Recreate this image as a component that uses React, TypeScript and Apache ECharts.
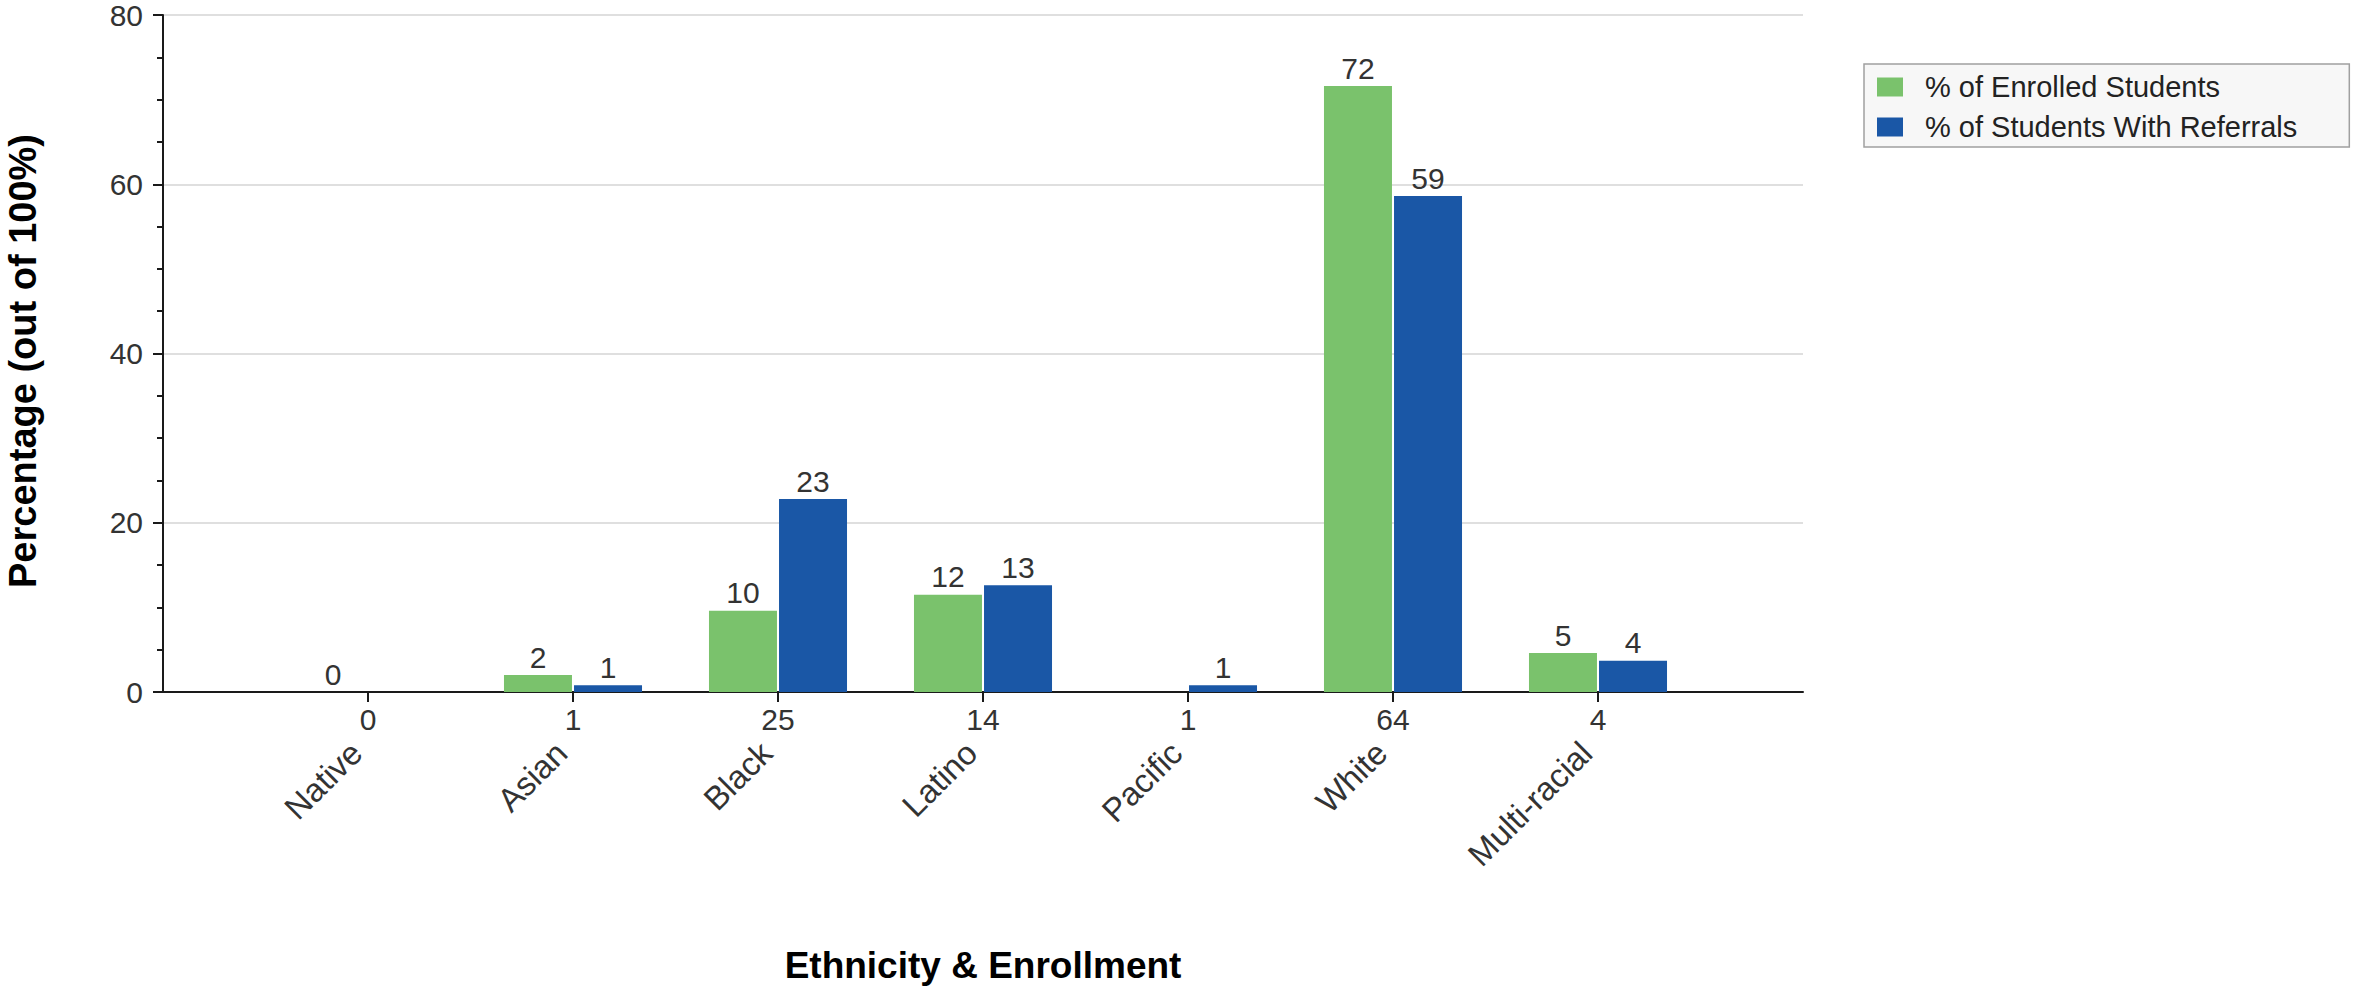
import React, { useEffect, useRef } from 'react';
import * as echarts from 'echarts';

const categories = ['Native', 'Asian', 'Black', 'Latino', 'Pacific', 'White', 'Multi-racial'];
const referralCounts = ['0', '1', '25', '14', '1', '64', '4'];
const enrolledPct: (number | null)[] = [0, 2.0, 9.6, 11.5, null, 71.6, 4.6];
const referralPct: (number | null)[] = [null, 0.8, 22.8, 12.6, 0.8, 58.6, 3.7];
const seriesNames = ['% of Enrolled Students', '% of Students With Referrals'];
const seriesColors = ['#7ac26c', '#1a57a6'];
const yMin = 0;
const yMax = 80;
const yInterval = 20;
const yTitle = 'Percentage (out of 100%)';
const xTitle = 'Ethnicity & Enrollment';

const FONT = '"Liberation Sans", Arial, sans-serif';

export default function App() {
  const ref = useRef<HTMLDivElement>(null);
  useEffect(() => {
    document.body.style.margin = '0';
    const chart = echarts.init(ref.current!, undefined, { renderer: 'svg' });
    const padNames = ['', ...categories, ''];
    const padCounts = ['', ...referralCounts, ''];
    const pad = (a: (number | null)[]) => [null, ...a, null];
    const lastIdx = padNames.length - 1;
    const tickInterval = (i: number) => i > 0 && i < lastIdx;
    const barLabel = {
      show: true,
      position: 'top',
      distance: 3,
      fontSize: 30,
      fontFamily: FONT,
      color: '#333',
      formatter: (p: any) => (p.value == null ? '' : String(Math.round(p.value))),
    };
    chart.setOption({
      animation: false,
      grid: { left: 163, top: 15, right: 553, bottom: 296, containLabel: false },
      legend: {
        orient: 'vertical',
        left: 1864,
        top: 64,
        padding: [8, 52, 5, 13],
        itemWidth: 26,
        itemHeight: 19,
        itemGap: 10,
        icon: 'rect',
        backgroundColor: '#f7f7f7',
        borderColor: '#a0a0a0',
        borderWidth: 1.5,
        borderRadius: 0,
        textStyle: { fontSize: 29, lineHeight: 30, fontFamily: FONT, color: '#222', padding: [0, 0, 0, 17] },
        data: seriesNames,
      },
      xAxis: [
        {
          type: 'category',
          data: padCounts,
          boundaryGap: false,
          position: 'bottom',
          axisLine: { lineStyle: { color: '#1a1a1a', width: 2 } },
          axisTick: { show: true, length: 10, interval: tickInterval, lineStyle: { color: '#1a1a1a', width: 2 } },
          axisLabel: { interval: 0, margin: 12, fontSize: 30, fontFamily: FONT, color: '#333' },
          splitLine: { show: false },
        },
        {
          type: 'category',
          data: padNames,
          boundaryGap: false,
          position: 'bottom',
          axisLine: { show: false },
          axisTick: { show: false },
          axisLabel: {
            interval: 0,
            rotate: 45,
            margin: 67,
            verticalAlign: 'bottom',
            fontSize: 33,
            fontFamily: FONT,
            color: '#333',
          },
          splitLine: { show: false },
        },
      ],
      yAxis: {
        type: 'value',
        min: yMin,
        max: yMax,
        interval: yInterval,
        axisLine: { show: true, lineStyle: { color: '#1a1a1a', width: 2 } },
        axisTick: { show: true, length: 10, lineStyle: { color: '#1a1a1a', width: 2 } },
        minorTick: { show: true, splitNumber: 4, length: 6, lineStyle: { color: '#1a1a1a', width: 2 } },
        axisLabel: { margin: 20, fontSize: 30, fontFamily: FONT, color: '#333' },
        splitLine: { show: true, lineStyle: { color: '#d4d4d4', width: 1.5 } },
      },
      series: [
        {
          name: seriesNames[0],
          type: 'bar',
          xAxisIndex: 0,
          data: pad(enrolledPct),
          barWidth: 68,
          barGap: '3%',
          itemStyle: { color: seriesColors[0] },
          label: barLabel,
        },
        {
          name: seriesNames[1],
          type: 'bar',
          xAxisIndex: 0,
          data: pad(referralPct),
          barWidth: 68,
          barGap: '3%',
          itemStyle: { color: seriesColors[1] },
          label: barLabel,
        },
      ],
      graphic: [
        {
          type: 'text',
          x: 23,
          y: 361,
          rotation: Math.PI / 2,
          style: {
            text: yTitle,
            fontSize: 38,
            fontWeight: 'bold',
            fontFamily: FONT,
            fill: '#000',
            align: 'center',
            verticalAlign: 'middle',
          },
        },
        {
          type: 'text',
          x: 983,
          y: 965,
          style: {
            text: xTitle,
            fontSize: 37,
            fontWeight: 'bold',
            fontFamily: FONT,
            fill: '#000',
            align: 'center',
            verticalAlign: 'middle',
          },
        },
      ],
    });
    return () => chart.dispose();
  }, []);
  return <div ref={ref} style={{ width: 2356, height: 988 }} />;
}
